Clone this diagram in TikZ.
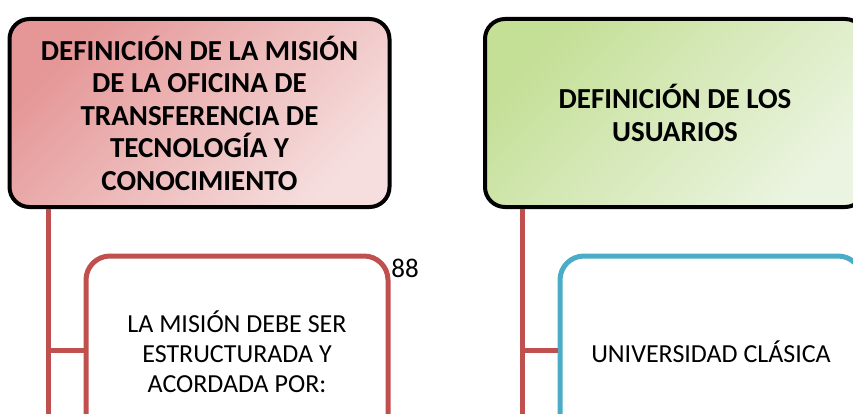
\documentclass[tikz,border=0pt]{standalone}
\usepackage{fontspec}
\setmainfont{Carlito}
\usepackage{tikz}

\definecolor{lineRed}{RGB}{192,80,77}
\definecolor{lineCyan}{RGB}{75,172,198}
\definecolor{pinkDark}{RGB}{229,150,150}
\definecolor{pinkLight}{RGB}{246,222,222}
\definecolor{greenDark}{RGB}{196,223,150}
\definecolor{greenLight}{RGB}{235,244,224}

\tikzset{
	headbox/.style={rectangle, rounded corners=20pt, draw=black, line width=4pt, minimum width=380pt, minimum height=188pt, align=center, font=\fontsize{29}{32.5}\selectfont\bfseries, shading angle=45},
	childbox/.style={rectangle, rounded corners=24pt, line width=5pt, fill=white, minimum width=302pt, minimum height=192pt, align=center, font=\fontsize{26}{30}\selectfont},
	branch/.style={lineRed, line width=5pt}
}

\begin{document}
\begin{tikzpicture}[x=1pt, y=-1pt]
		
		\useasboundingbox (0,0) rectangle (853,414);
		\clip (0,0) rectangle (853,414);
		
		% Node
		
		\node[headbox, top color=pinkDark, bottom color=pinkLight, shading angle=45]
		(mision) at (199.5,113) {DEFINICIÓN DE LA MISIÓN\\DE LA OFICINA DE\\TRANSFERENCIA DE\\TECNOLOGÍA Y\\CONOCIMIENTO};
		\node[headbox, top color=greenDark, bottom color=greenLight, shading angle=45]
		(usuarios) at (675,113) {DEFINICIÓN DE LOS\\USUARIOS};
		
		\node[childbox, draw=lineRed]
		(acordada) at (237,352) {LA MISIÓN DEBE SER\\ESTRUCTURADA Y\\ACORDADA POR:};
		\node[childbox, draw=lineCyan]
		(clasica) at (711,352) {UNIVERSIDAD CLÁSICA};
		
		\node[font=\fontsize{27}{30}\selectfont]
		(pagina) at (405,268) {88};
		
		% Branch coordinates
		
		\coordinate (misionEnd) at (48,430);
		\coordinate (misionJoin) at (48,350);
		\coordinate (usuariosEnd) at (522,430);
		\coordinate (usuariosJoin) at (522,350);
		
		% EDGE
		
		\draw[branch] (mision.south -| misionEnd) -- (misionEnd);
		\draw[branch] (misionJoin) -- (acordada.west |- misionJoin);
		\draw[branch] (usuarios.south -| usuariosEnd) -- (usuariosEnd);
		\draw[branch] (usuariosJoin) -- (clasica.west |- usuariosJoin);
		
	\end{tikzpicture}
\end{document}
